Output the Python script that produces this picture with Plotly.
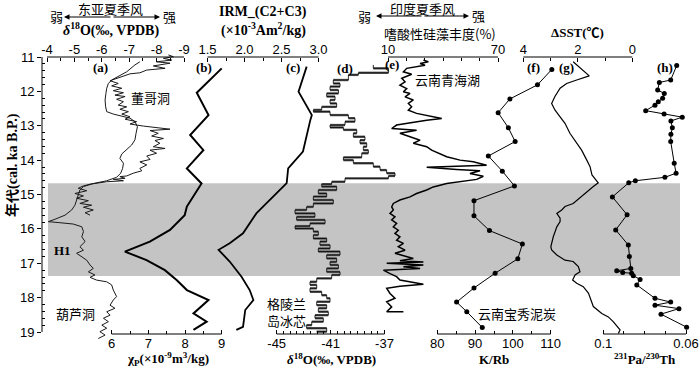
import plotly.graph_objects as go

# ---------------- data ----------------
# (a) Hulu cave d18O
hulu_age = [11.14, 11.23, 11.43, 11.57, 11.67, 11.77, 11.91, 12.06, 12.25, 12.45, 12.59, 12.66, 12.71, 12.78,
            12.88, 13.03, 13.22, 13.41, 13.56, 13.71, 13.82, 13.95, 14.09, 14.24, 14.38, 14.50, 14.60, 14.68,
            14.77, 14.87, 15.02, 15.16, 15.31, 15.45, 15.60, 15.72, 15.79, 15.82, 15.86, 15.94, 16.08, 16.23,
            16.37, 16.52, 16.62, 16.71, 16.81, 16.91, 17.05, 17.15, 17.25, 17.34, 17.41, 17.49, 17.54, 17.63,
            17.78, 17.97, 18.07, 18.22, 18.31, 18.41, 18.51, 18.60, 18.70, 18.80, 18.89, 18.99, 19.09, 19.19]
hulu_d18o = [-7.39, -7.21, -6.91, -6.60, -6.36, -6.24, -6.18, -6.15, -6.12, -6.14, -6.18, -6.42, -6.73, -7.03,
             -7.21, -7.30, -7.25, -7.21, -7.09, -6.88, -6.73, -6.66, -6.79, -6.76, -6.69, -6.54, -6.18, -5.69,
             -5.33, -5.20, -5.14, -5.08, -5.02, -4.90, -4.66, -4.29, -4.05, -4.47, -4.96, -5.27, -5.33, -5.27,
             -5.39, -5.20, -5.33, -5.08, -5.27, -5.45, -5.57, -5.69, -5.51, -5.75, -5.57, -5.81, -6.18, -6.36,
             -6.42, -6.54, -6.42, -6.30, -6.48, -6.18, -6.30, -6.06, -6.24, -6.00, -6.18, -5.93, -6.12, -5.87]
# (a) Dongge cave d18O
dongge_age = [10.94, 10.99, 11.04, 11.09, 11.14, 11.18, 11.26, 11.33, 11.38, 11.46, 11.49, 11.55, 11.62, 11.69,
              11.77, 11.84, 11.91, 11.98, 12.04, 12.11, 12.15, 12.23, 12.30, 12.40, 12.45, 12.52, 12.59, 12.66,
              12.74, 12.81, 12.88, 12.95, 13.01, 13.05, 13.10, 13.14, 13.22, 13.30, 13.37, 13.43, 13.51, 13.61,
              13.66, 13.71, 13.80, 13.88, 13.98, 14.05, 14.14, 14.24, 14.31, 14.38, 14.46, 14.48, 14.53, 14.56,
              14.60, 14.63, 14.66, 14.70, 14.75, 14.82, 14.89, 14.97, 15.04, 15.11, 15.18, 15.26, 15.31, 15.37,
              15.45, 15.53, 15.60]
dongge_d18o = [-8.43, -8.61, -8.25, -8.55, -8.00, -8.49, -7.88, -8.31, -7.64, -7.39, -7.03, -6.79, -6.54, -6.30,
               -6.60, -6.36, -6.73, -6.42, -6.79, -6.48, -6.85, -6.54, -6.79, -6.60, -6.91, -6.66, -6.97, -6.73,
               -7.03, -6.85, -7.27, -7.03, -7.52, -7.88, -8.49, -7.76, -8.06, -7.82, -8.25, -7.94, -8.12, -7.88,
               -8.31, -7.76, -8.00, -7.64, -7.76, -7.39, -7.64, -7.39, -7.46, -7.15, -6.91, -6.66, -6.85, -6.42,
               -6.79, -6.18, -5.81, -5.57, -5.33, -5.14, -5.45, -5.02, -5.33, -5.08, -5.51, -5.20, -5.63, -5.33,
               -5.69, -5.39, -5.57]
# (b) chi_p
chi_age = [11.33, 12.04, 12.69, 13.27, 13.71, 14.24, 14.68, 15.35, 15.60, 16.03, 16.37, 16.66, 16.91, 17.20,
           17.49, 17.78, 18.07, 18.46, 18.70, 18.94]
chi_p = [9.00, 8.32, 8.64, 8.14, 8.50, 8.05, 8.45, 8.05, 7.99, 7.59, 7.04, 6.36, 6.95, 7.45,
         7.77, 8.05, 8.64, 8.23, 8.59, 8.23]
# (c) IRM
irm_age = [11.28, 12.01, 12.69, 12.83, 13.75, 14.24, 14.67, 15.06, 15.55, 16.13, 16.42, 16.61, 16.95, 17.39,
           17.78, 18.07, 18.36, 18.85, 18.94]
irm = [2.84, 2.73, 2.91, 2.89, 2.79, 2.59, 2.57, 2.39, 2.16, 1.98, 1.80, 1.65, 1.80, 1.96,
       2.07, 2.12, 2.01, 1.98, 1.89]
# (d) Greenland ice core d18O
gis_age = [11.23, 11.33, 11.46, 11.52, 11.67, 11.77, 11.86, 11.96, 12.06, 12.15, 12.25, 12.35, 12.45, 12.54,
           12.59, 12.69, 12.78, 12.88, 12.98, 13.05, 13.12, 13.22, 13.32, 13.42, 13.51, 13.61, 13.71, 13.80,
           13.92, 14.00, 14.09, 14.19, 14.29, 14.38, 14.46, 14.53, 14.63, 14.70, 14.77, 14.87, 14.97, 15.06,
           15.16, 15.26, 15.36, 15.45, 15.55, 15.65, 15.74, 15.84, 15.92, 15.99, 16.08, 16.18, 16.28, 16.37,
           16.47, 16.57, 16.66, 16.76, 16.86, 16.96, 17.05, 17.15, 17.25, 17.34, 17.44, 17.54, 17.63, 17.73,
           17.83, 17.93, 18.02, 18.12, 18.22, 18.31, 18.41, 18.51, 18.60, 18.70, 18.80, 18.89, 18.99]
gis_d18o = [-37.83, -36.71, -38.94, -39.68, -40.80, -40.30, -41.04, -40.42, -41.29, -40.67, -41.04, -40.55, -41.66, -42.28,
            -41.04, -39.68, -39.19, -39.93, -41.04, -40.05, -39.06, -39.31, -38.45, -38.82, -38.32, -38.57, -38.20, -38.69,
            -40.05, -39.31, -37.83, -37.33, -36.84, -36.22, -36.71, -39.93, -40.92, -41.66, -40.55, -41.91, -41.29, -42.28,
            -40.80, -42.28, -42.78, -43.64, -42.16, -43.52, -41.41, -42.53, -43.64, -42.28, -41.91, -42.28, -41.29, -41.79,
            -41.04, -41.91, -40.30, -41.29, -40.55, -41.04, -40.42, -41.29, -40.30, -40.92, -42.03, -42.53, -42.03, -42.53,
            -41.66, -41.29, -41.04, -42.03, -41.29, -41.91, -41.17, -42.16, -41.54, -42.40, -42.78, -41.29, -42.03]
# (e) acidophilic diatoms, Qinghai Lake (Yunnan)
diatom_age = [11.09, 11.14, 11.19, 11.24, 11.33, 11.43, 11.50, 11.62, 11.72, 11.82, 11.92, 12.01, 12.06, 12.16,
              12.25, 12.35, 12.45, 12.55, 12.64, 12.72, 12.79, 12.84, 12.98, 13.08, 13.13, 13.22, 13.32, 13.42,
              13.51, 13.61, 13.71, 13.81, 13.90, 14.00, 14.05, 14.15, 14.17, 14.21, 14.27, 14.31, 14.39, 14.47,
              14.56, 14.63, 14.68, 14.73, 14.78, 14.87, 14.97, 15.07, 15.16, 15.26, 15.36, 15.45, 15.55, 15.65,
              15.74, 15.84, 15.94, 16.04, 16.13, 16.23, 16.33, 16.42, 16.52, 16.62, 16.71, 16.86, 16.93, 16.96,
              17.00, 17.05, 17.10, 17.15, 17.20, 17.30, 17.39, 17.49, 17.61, 17.67, 17.73, 17.88, 18.02, 18.12,
              18.27, 18.41, 18.41]
diatom = [29.3, 32.0, 27.5, 30.2, 20.2, 18.4, 22.9, 17.5, 19.3, 16.5, 20.2, 18.4, 22.0, 19.3,
          23.8, 21.1, 22.9, 21.1, 25.6, 32.9, 39.3, 31.1, 14.7, 12.0, 25.6, 16.5, 22.0, 27.5,
          23.8, 31.1, 33.8, 38.4, 42.0, 49.3, 56.5, 63.8, 51.1, 31.1, 47.5, 60.2, 54.7, 62.0,
          58.4, 49.3, 42.0, 38.4, 34.7, 31.1, 25.6, 22.0, 16.5, 12.9, 12.0, 12.9, 11.1, 13.8,
          12.0, 14.7, 12.9, 15.6, 13.8, 16.5, 14.7, 18.4, 15.6, 19.3, 13.8, 23.8, 16.5, 29.3,
          9.3, 29.3, 18.4, 27.5, 7.5, 11.1, 14.7, 16.5, 29.3, 16.5, 9.3, 11.1, 13.8, 9.3,
          12.0, 9.3, 18.4]
# (f) K/Rb, Baoxiu peat
krb_age = [11.36, 11.81, 12.22, 12.62, 13.06, 13.46, 13.88, 14.32, 14.75, 15.18, 15.62, 16.05, 16.44, 16.87,
           17.29, 17.72, 18.13, 18.41, 18.87]
krb = [110.3, 106.5, 99.2, 96.1, 98.8, 100.6, 93.5, 97.2, 100.4, 89.7, 89.7, 93.8, 102.5, 101.3,
       95.3, 89.7, 85.1, 87.8, 91.9]
# (g) delta SST
sst_age = [11.14, 11.23, 11.33, 11.43, 11.55, 11.67, 11.77, 11.91, 12.15, 12.35, 12.54, 12.74, 12.93, 13.22,
           13.51, 13.71, 14.00, 14.19, 14.43, 14.53, 14.66, 14.77, 14.92, 15.06, 15.26, 15.35, 15.45, 15.55,
           15.69, 15.79, 15.94, 16.23, 16.52, 16.61, 16.76, 16.91, 16.95, 17.10, 17.25, 17.34, 17.49, 17.58,
           17.68, 17.87, 18.07, 18.26, 18.46, 18.56, 18.70, 18.85, 18.94, 19.04]
dsst = [2.17, 2.04, 1.92, 1.74, 1.58, 2.04, 2.41, 2.65, 2.84, 2.96, 2.84, 2.65, 2.47, 2.29,
        2.04, 1.86, 1.67, 1.55, 1.48, 1.37, 1.25, 1.43, 1.67, 1.86, 2.17, 2.47, 2.59, 2.77,
        2.65, 2.65, 2.77, 2.90, 2.99, 2.96, 2.77, 2.47, 2.17, 1.98, 1.92, 2.10, 2.19, 2.04,
        1.80, 1.61, 1.53, 1.43, 1.12, 0.88, 0.70, 0.55, 0.45, 0.51]
# (h) 231Pa/230Th
pa_age = [11.25, 11.67, 11.74, 11.96, 12.06, 12.20, 12.30, 12.40, 12.56, 12.66, 12.75, 12.86, 13.06, 13.25,
          13.46, 14.09, 14.38, 14.50, 14.60, 14.66, 15.07, 15.59, 16.03, 16.47, 16.80, 17.15, 17.22, 17.27,
          17.29, 17.36, 17.47, 17.63, 18.02, 18.13, 18.22, 18.32, 18.48, 18.86]
pa_th = [0.0645, 0.0674, 0.0729, 0.0737, 0.0705, 0.0713, 0.0734, 0.0750, 0.0795, 0.0706, 0.0618, 0.0673, 0.0666, 0.0673,
         0.0674, 0.0657, 0.0648, 0.0702, 0.0845, 0.0877, 0.0956, 0.0885, 0.0940, 0.0879, 0.0874, 0.0867, 0.0935, 0.0906,
         0.0863, 0.0855, 0.0822, 0.0838, 0.0750, 0.0674, 0.0750, 0.0634, 0.0721, 0.0597]

# band (H1) and axis ticks
h1_band = [14.67, 17.37]
age_ticks = [11, 12, 13, 14, 15, 16, 17, 18, 19]

# ---------------- layout helpers (pixel placement) ----------------
W, H = 700, 370
ML, MR, MT, MB = 42, 0, 50, 25
PW, PH = W - ML - MR, H - MT - MB
Y11, Y19 = 57, 332


def fx(px):
    return (px - ML) / PW


def fy(py):
    return (H - MB - py) / PH


def age_at(py):
    return 11 + (py - Y11) * 8 / (Y19 - Y11)


def xr(v1, p1, v2, p2):
    s = (v2 - v1) / (p2 - p1)
    return [v1 + (ML - p1) * s, v1 + (W - MR - p1) * s]


TOP_PY, BOT_PY = 57, 334
SANS = "Liberation Sans, Arial, sans-serif"
SERIF = "Liberation Serif, Times New Roman, Noto Sans CJK SC, serif"
CJK = "Noto Sans CJK SC, sans-serif"

fig = go.Figure()

axes = {
    "x": dict(r=xr(-4, 47, -9, 184), side="top", tv=[-4, -5, -6, -7, -8, -9],
              tt=["-4", "-5", "-6", "-7", "-8", "-9"], mv=[-4.5, -5.5, -6.5, -7.5, -8.5], ends=(-4, -9)),
    "x2": dict(r=xr(6, 111.7, 9, 221.7), side="bottom", tv=[6, 7, 8, 9], tt=["6", "7", "8", "9"],
               mv=[6.5, 7.5, 8.5], ends=(6, 9)),
    "x3": dict(r=xr(1.5, 207.5, 3.0, 318.5), side="top", tv=[1.5, 2.0, 2.5, 3.0],
               tt=["1.5", "2.0", "2.5", "3.0"], mv=[1.75, 2.25, 2.75], ends=(1.5, 3.0)),
    "x4": dict(r=xr(-45, 276.7, -37, 384.5), side="bottom", tv=[-45, -41, -37], tt=["-45", "-41", "-37"],
               mv=[-44.5, -44, -43.5, -43, -42.5, -42, -41.5, -40.5, -40, -39.5, -39, -38.5, -38, -37.5],
               ends=(-45, -37)),
    "x5": dict(r=xr(10, 388, 70, 498), side="top", tv=[10, 70], tt=["10", "70"], mv=[20, 30, 40, 50, 60],
               ends=(10, 70)),
    "x6": dict(r=xr(80, 437.3, 110, 550.7), side="bottom", tv=[80, 90, 100, 110], tt=["80", "90", "100", "110"],
               mv=[85, 95, 105], ends=(80, 110)),
    "x7": dict(r=xr(4, 523.3, 0, 632.3), side="top", tv=[4, 2, 0], tt=["4", "2", "0"], mv=[3, 1], ends=(4, 0)),
    "x8": dict(r=xr(0.1, 603.3, 0.06, 686), side="bottom", tv=[0.1, 0.06], tt=["0.1", "0.06"],
               mv=[0.09, 0.08, 0.07], ends=(0.1, 0.06)),
}

shapes = []
layout_axes = {}
for name, a in axes.items():
    key = "xaxis" if name == "x" else "xaxis" + name[1:]
    pos = fy(TOP_PY) if a["side"] == "top" else fy(BOT_PY)
    d = dict(range=a["r"], side=a["side"], anchor="free", position=pos, domain=[0, 1],
             automargin=False, fixedrange=True,
             showline=False, showgrid=False, zeroline=False,
             tickmode="array", tickvals=a["tv"], ticktext=a["tt"],
             ticks="inside", ticklen=4, tickwidth=1, tickcolor="black", ticklabelstandoff=0,
             tickfont=dict(family=SANS, size=13, color="black"),
             minor=dict(tickmode="array", tickvals=a["mv"], ticks="inside", ticklen=3, tickwidth=1,
                        tickcolor="black", showgrid=False))
    if name != "x":
        d["overlaying"] = "x"
    layout_axes[key] = d
    shapes.append(dict(type="line", xref=name, yref="paper", x0=a["ends"][0], x1=a["ends"][1],
                       y0=pos, y1=pos, line=dict(color="black", width=1)))

shapes.insert(0, dict(type="rect", xref="paper", yref="y", x0=fx(48), x1=fx(680), y0=h1_band[0], y1=h1_band[1],
                      fillcolor="#c4c4c4", line=dict(width=0), layer="below"))
shapes.append(dict(type="line", xref="paper", yref="y", x0=0, x1=0, y0=age_ticks[0], y1=age_ticks[-1],
                   line=dict(color="black", width=1)))

# ---------------- traces ----------------
LC = "#1a1a1a"
fig.add_trace(go.Scatter(x=hulu_d18o, y=hulu_age, xaxis="x", yaxis="y", mode="lines",
                         line=dict(color=LC, width=1), showlegend=False))
fig.add_trace(go.Scatter(x=dongge_d18o, y=dongge_age, xaxis="x", yaxis="y", mode="lines",
                         line=dict(color=LC, width=1), showlegend=False))
fig.add_trace(go.Scatter(x=chi_p, y=chi_age, xaxis="x2", yaxis="y", mode="lines",
                         line=dict(color="black", width=2), showlegend=False))
fig.add_trace(go.Scatter(x=irm, y=irm_age, xaxis="x3", yaxis="y", mode="lines",
                         line=dict(color="black", width=1.8), showlegend=False))
seg_x, seg_y = [], []
for i in range(len(gis_age) - 1):
    seg_x += [gis_d18o[i], gis_d18o[i + 1], None]
    seg_y += [gis_age[i + 1], gis_age[i + 1], None]
fig.add_trace(go.Scatter(x=seg_x, y=seg_y, xaxis="x4", yaxis="y", mode="lines",
                         line=dict(color="#5a5a5a", width=2.4), showlegend=False))
fig.add_trace(go.Scatter(x=gis_d18o, y=gis_age, xaxis="x4", yaxis="y", mode="lines", line_shape="vh",
                         line=dict(color="black", width=0.8), showlegend=False))
fig.add_trace(go.Scatter(x=diatom, y=diatom_age, xaxis="x5", yaxis="y", mode="lines",
                         line=dict(color="black", width=1.5), showlegend=False))
fig.add_trace(go.Scatter(x=krb, y=krb_age, xaxis="x6", yaxis="y", mode="lines+markers",
                         line=dict(color="black", width=1), marker=dict(color="black", size=5),
                         showlegend=False))
fig.add_trace(go.Scatter(x=dsst, y=sst_age, xaxis="x7", yaxis="y", mode="lines",
                         line=dict(color="black", width=1.2), showlegend=False))
fig.add_trace(go.Scatter(x=pa_th, y=pa_age, xaxis="x8", yaxis="y", mode="lines+markers",
                         line=dict(color="black", width=1), marker=dict(color="black", size=5),
                         showlegend=False))

# ---------------- annotations ----------------
ann = []


def txt(text, px, py, size=13, family=SERIF, bold=False, angle=0):
    t = f"<b>{text}</b>" if bold else text
    ann.append(dict(text=t, x=fx(px), y=fy(py), xref="paper", yref="paper", showarrow=False,
                    xanchor="center", yanchor="middle", textangle=angle,
                    font=dict(family=family, size=size, color="black")))


def arrow(px_tip, px_tail, py):
    ann.append(dict(text="", x=fx(px_tip), y=fy(py), xref="paper", yref="paper",
                    ax=px_tail - px_tip, ay=0, axref="pixel", ayref="pixel",
                    showarrow=True, arrowhead=2, arrowsize=1.1, arrowwidth=1, arrowcolor="black"))


txt("东亚夏季风", 110, 9, size=13, family=CJK)
txt("弱", 56, 17, size=13, family=CJK)
txt("强", 169, 17, size=13, family=CJK)
arrow(64, 112, 17)
arrow(160, 112, 17)
txt("<i>δ</i><sup>18</sup>O(‰, VPDB)", 111, 29, size=14, bold=True)

txt("IRM_(C2+C3)", 263, 12, size=14, bold=True)
txt("(×10<sup>-3</sup>Am<sup>2</sup>/kg)", 263, 29, size=14, bold=True)

txt("印度夏季风", 423, 9, size=13, family=CJK)
txt("弱", 364, 16, size=13, family=CJK)
txt("强", 478, 15, size=13, family=CJK)
arrow(376, 423, 16)
arrow(469, 423, 16)
txt("嗜酸性硅藻丰度(%)", 440, 33, size=13, family=CJK)

txt("ΔSST(℃)", 577, 32, size=13, bold=True)

txt("χ<sub>P</sub>(×10<sup>-9</sup>m<sup>3</sup>/kg)", 168, 359, size=13, bold=True)
txt("<i>δ</i><sup>18</sup>O(‰, VPDB)", 331, 359, size=13, bold=True)
txt("K/Rb", 494, 359, size=13, bold=True)
txt("<sup>231</sup>Pa/<sup>230</sup>Th", 645, 359, size=13, bold=True)

txt("年代(cal. ka B.P.)", 12, 165, size=14, bold=True, angle=-90)

for lab, px, py in [("(a)", 100, 67), ("(b)", 204, 67), ("(c)", 293, 67), ("(d)", 345, 68),
                    ("(e)", 392, 64), ("(f)", 533, 67), ("(g)", 566, 67), ("(h)", 665, 67)]:
    txt(lab, px, py, size=13, bold=True)

txt("董哥洞", 150, 97, size=13, family=CJK)
txt("H1", 62, 250, size=13, bold=True)
txt("葫芦洞", 75, 313, size=13, family=CJK)
txt("格陵兰<br>岛冰芯", 286, 312, size=13, family=CJK)
txt("云南青海湖", 447, 80, size=13, family=CJK)
txt("云南宝秀泥炭", 517, 313, size=13, family=CJK)

fig.update_layout(
    template="none",
    width=W, height=H, margin=dict(l=ML, r=MR, t=MT, b=MB, autoexpand=False),
    paper_bgcolor="white", plot_bgcolor="rgba(0,0,0,0)",
    showlegend=False,
    yaxis=dict(range=[age_at(H - MB), age_at(MT)], domain=[0, 1], showline=False, showgrid=False,
               automargin=False, fixedrange=True,
               zeroline=False, tickmode="array", tickvals=age_ticks, ticks="outside", ticklen=4,
               tickwidth=1, tickcolor="black", tickfont=dict(family=SANS, size=13, color="black"),
               minor=dict(tickmode="array",
                          tickvals=[round(11 + 0.2 * k, 1) for k in range(41) if k % 5 != 0],
                          ticks="inside", ticklen=3, tickwidth=1, tickcolor="black", showgrid=False)),
    shapes=shapes, annotations=ann,
    **layout_axes,
)

fig.write_html("out.html", config={"displayModeBar": False},
               post_script="document.body.style.margin='0';document.body.style.overflow='hidden';")
